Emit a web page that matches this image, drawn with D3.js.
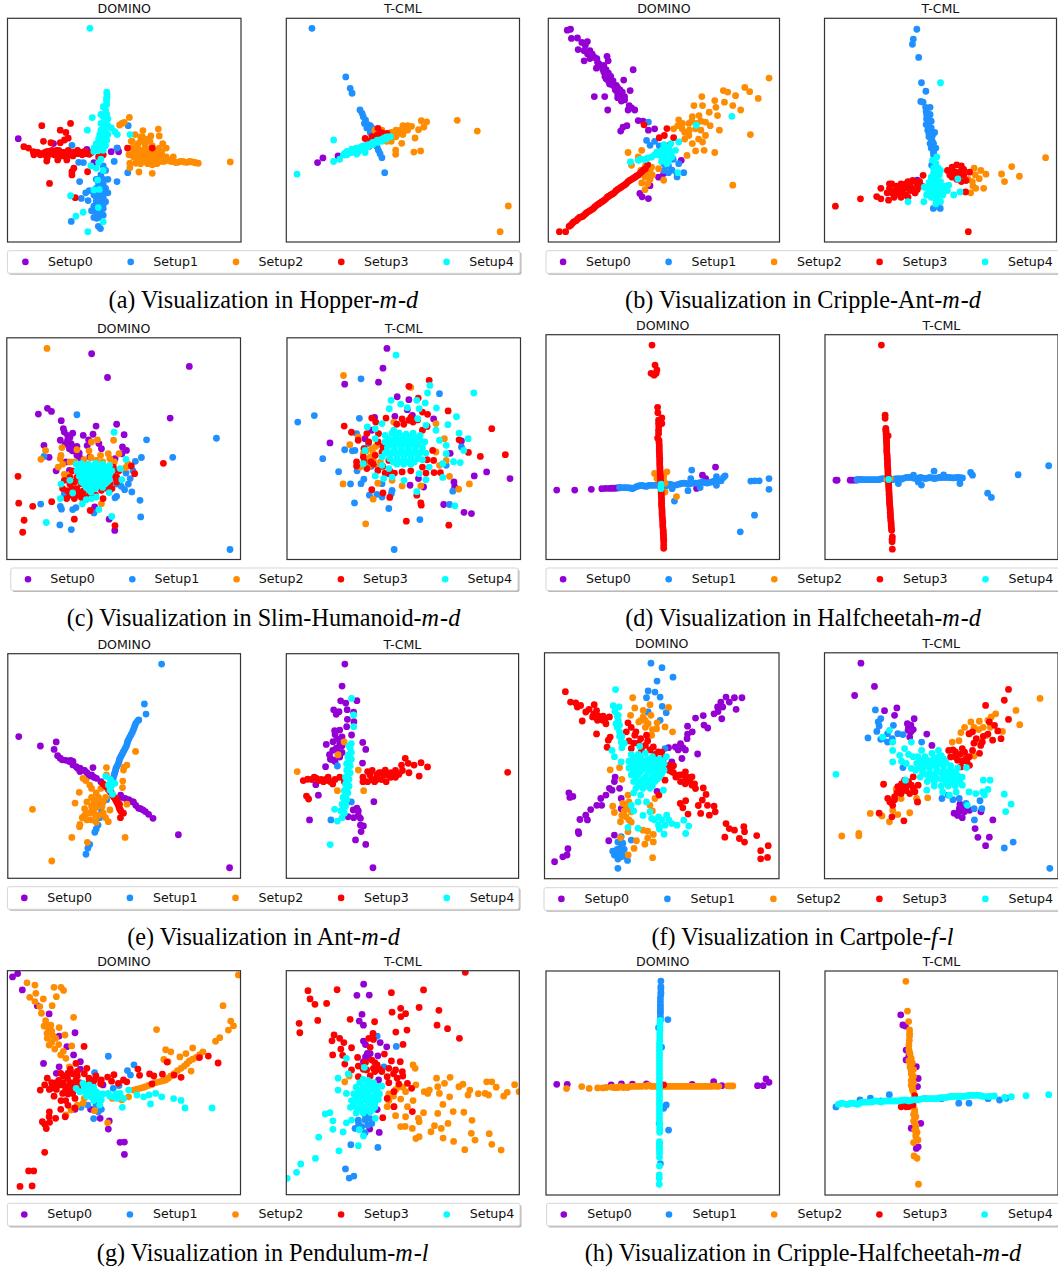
<!DOCTYPE html>
<html>
<head>
<meta charset="utf-8">
<style>
  body { margin: 0; background: #fff; }
  text { font-family: "DejaVu Sans", sans-serif; font-size: 12.6px; fill: #111; }
  text.caption { font-family: "Liberation Serif", serif; font-size: 24.2px; fill: #000; }
</style>
<script src="https://cdn.jsdelivr.net/npm/d3@7"></script>
</head>
<body>
<svg id="chart" width="1058" height="1270"></svg>
<script>
const setupNames = ['Setup0', 'Setup1', 'Setup2', 'Setup3', 'Setup4'];
const setupColors = ['#9400d3', '#1e90ff', '#ff8c00', '#ff0000', '#00ffff'];

// embedding values, both axes 0-100, y counted from the top
const hopD0 = [[4.6,53.8],[19.7,56],[34,58.6],[37,64.5],[44.4,59.6],[47.6,59.6],[47,58]];
const hopD1 = [[27.6,56.8],[30.5,64.4],[32.5,64.5],[45.7,64],[46.9,73],[30.9,73],[51.7,48],[46.9,58],[51.5,69],[27.3,90.8],[38.9,93],[39.8,94],[38.2,89.4],[33.5,78],[35,77],[31.6,80.5],[34.5,81.5],[38,72],[40,70],[42,68],[41,66],[43,72],[39,74],[41,74],[38,76],[40,77],[42,76],[43,78],[37,79],[39,80],[41,80],[38,82],[40,83],[42,82],[37,84],[39,85],[41,85],[36,86],[38,87],[40,87],[39,89],[37,89],[41,88],[39,72],[41,72],[40,75],[39,78],[41,78],[38,80],[40,81],[39,83],[41,83],[38,85],[40,85.5],[39,87]];
const hopD2 = [[95.4,64.2],[81.7,64.8],[80.5,64.6],[80,64.3],[79,64.2],[78,64],[77,64.4],[76,64.3],[75,64],[74,64],[73,64.4],[72,64.5],[71,64],[70,64],[69,63.5],[68,63.5],[67,64],[66,64],[65,63.5],[64,63],[63,64],[62,64],[61,63],[60,63],[59,64],[58,64],[57,63],[56,63],[55,62.5],[54,62],[66,61],[68,62],[71,62],[64,60],[62,61],[60,60],[57,60],[55,59],[53,58],[59,57],[56,56],[53,55],[60,54],[57,53],[49,47],[52.2,44.3],[48,47.7],[50,46.5],[58,50.2],[64.6,49.5],[65,52.6],[61.4,52.6],[57.8,53],[54.6,52],[53.4,55],[52,61],[52.4,64.8],[52.4,66.8],[55,64.8],[56.3,68.7],[62,69.3],[66.5,56],[68,58],[65,58],[62,57],[58,62],[60,65],[55,61],[63,59],[61,58.5],[58,59],[55,57.5],[66,59.5],[63,62],[60,62],[58,60.5],[56,58.5],[54,60],[57,65],[62,65.5],[64,65],[57,55],[59,55.5],[61,55]];
const hopD3 = [[7,57.4],[9,58],[11,59.6],[11.3,61],[12,60],[13,60],[14,60.5],[15,60.5],[16,60],[17,59.5],[18,60.8],[19,59],[20,60],[21,59],[22,60.5],[23,60],[24,60],[25,60],[26,60.8],[27,61],[28,60],[29,60],[30,60.5],[31,60],[32,60],[33,59.5],[34,60.5],[35,60.8],[36,60],[14,61],[16,61],[18,59.5],[20,61],[22,59],[24,61.5],[26,59],[28,61.5],[30,59],[32,61],[14.7,48],[27,47],[22.6,50],[25,51],[26,53.6],[24.4,54.4],[22.6,55.6],[15.4,55],[18.6,55.6],[16.8,63.8],[21.5,63.3],[25.4,63.3],[17,62.5],[22,62],[28.4,67],[27.6,68.5],[27.6,70],[34.3,68.6],[18,73.8],[29,80.2],[51.4,58],[62,58],[39,62],[41,61]];
const hopD4 = [[35.3,4.5],[42.5,33],[42.6,34],[42.6,35],[42.4,36],[42.4,37],[42.5,38.5],[41,39.5],[42,41],[42.5,43],[41,44],[43,45],[42,46],[40,47],[41.5,47.5],[43,48],[41,49],[40,50],[42,50.5],[39.5,52],[41,53],[43,52],[39,54],[41,55],[42.5,54.5],[38,56],[40,57],[42,57],[37,58],[39,59],[41,59],[40,43],[42,48],[41,51],[40,53],[39.5,56],[37.5,59],[36.3,44.4],[34.2,50],[52.5,52],[46,50.7],[47,52],[44.5,49],[37,59.5],[35.7,66],[38,67],[41,68],[38.6,72.3],[39.3,76.5],[37,76.7],[27,79.3],[32.4,86.7],[29.3,88.5],[38.9,84.6],[41,91],[34.4,95.4],[40,63],[39,64.5]];

const hopT0 = [[13.4,64.5],[15.7,62.4],[22.2,61.5],[25,61],[35.3,57.4],[30,59]];
const hopT1 = [[11,4.5],[25.5,26.2],[27.4,31.3],[28.2,33.5],[31.6,41],[32.5,42.5],[33,44],[34,45.5],[33.5,47],[35,47.5],[36,48],[36.7,49],[34.5,49],[36,51],[37,53],[38,55],[38.9,57.4],[39.5,59],[40.2,60.5],[41,62.3],[42.2,69]];
const hopT2 = [[73.3,45.6],[81.9,50.4],[95.2,83.9],[91.7,95.4],[57.9,45.8],[60.2,46.3],[59,48.6],[56.7,49.8],[53.7,48.3],[55.2,53.5],[57.6,59.3],[54.7,59.8],[46.9,58.9],[46.9,60.8],[49.5,55.9],[50,48],[51.5,48.5],[49,50],[47,50],[45,51],[52,50],[50,52],[47,53],[45,55],[43,55],[38,50],[48,51.5],[46,52.5],[44,53.5],[50,50],[52,48],[41,50]];
const hopT3 = [[33.8,53.7],[36.7,52.9],[38.9,52.2],[41,51.1],[43.2,51.4],[39.3,49.2],[37,54],[35,55],[42,52.5],[40,52]];
const hopT4 = [[4.6,69.7],[20.3,54.4],[20.3,64],[22.9,63],[25,60.4],[26,59.5],[27,60],[28,58.5],[29,59],[30.2,60.7],[30,58],[31,58],[32,57.5],[33,58],[33.8,60],[34,57],[35,56.5],[36,56.5],[37,55.5],[38,55.5],[39,54.5],[40,54.5],[41,54],[42,53.5],[43,53],[44,53],[44.7,52.9],[24.5,61],[26,61],[28,60],[31,59.5],[33,57],[35,57.5],[37,56.5],[39,55.5],[41,55],[43,54]];

const antD0 = [[8.2,5.3],[9.6,4.9],[10,9],[12.6,8.8],[14.5,10.8],[16.9,10.4],[12.9,14],[15.5,14.5],[18,14.5],[15.5,19],[20,17.5],[21.3,19.7],[25.4,17],[25.9,19],[20.8,22.3],[23.5,22.7],[22,20.5],[24,24],[25.7,25.7],[25,27],[26,28],[36.7,23],[32.6,27.6],[26.5,29.4],[28,30],[29.4,30],[35.4,32.3],[30,33.8],[29,32],[31,32],[33,35],[32,33],[19.9,35],[24.4,35],[31.6,37],[30,35.5],[25.7,41],[34.5,41],[37.4,41],[36,40],[38.9,45.7],[41,46],[34,48],[32.3,48.7],[31.3,50.4],[43.3,50],[46,49.4],[57.5,63.5],[49.9,69.4],[47.7,71],[55.7,69.4],[39.6,78.3],[40.6,79.8],[43.3,80.6],[44,74.8],[16,12],[17,16],[19,16],[18,18],[21,18],[22,21],[24,21],[25,23],[26,24.5],[27,26],[28,28],[24.5,26],[27,29],[30,31],[31,34],[32,35],[33,36.5],[35,39]];
const antD1 = [[43.3,46.4],[42.5,54.6],[44,56.8],[55.7,70.9],[58.6,69],[56.4,65],[53.5,67.9],[52,66],[50,68],[54,63],[46,55],[48,57],[50,65],[52,69]];
const antD2 = [[95.5,26.7],[85,30.9],[87.1,32.8],[90.8,35.8],[75.7,32.3],[77.6,33],[81,34.6],[66.4,35],[72,36.8],[76.2,37.5],[79.8,39],[83.2,41],[63,39],[66.7,39],[72.5,39.8],[69.6,42],[73.2,43.5],[62.3,44],[56.4,45.4],[65.2,43.5],[68,46.4],[60.8,47],[74,50],[87.4,52],[54.2,49.4],[57.9,49.4],[63.7,49.4],[68,52.4],[60.8,52.4],[66.7,55.3],[62.3,56],[67.4,59],[63.7,59.3],[72,60],[60,61.3],[79.8,74.6],[34.5,60],[40.4,59],[38.9,62],[43.3,69.4],[41.8,71],[44.7,66.5],[40.4,73.6],[41.8,76.6],[49.9,72.4],[47.7,67.2],[36,65.7],[42,66],[40,68],[44,72],[43,74],[64,47],[70,48],[59,51],[66,46],[62,46],[58,47],[56,48],[61,50],[66,50],[65,54],[59,54],[44,68],[42,69],[45,70]];
const antD3 = [[4.8,95.4],[7.5,95.4],[9,93],[9.7,92.5],[10.4,91.7],[11,91],[12,90.5],[12.8,89.7],[13.5,89],[14.2,88.8],[15,88.5],[15.8,87.7],[16.5,87],[17.2,86.5],[18,86],[18.8,85.5],[19.5,85],[20.2,84.2],[21,83.5],[21.8,83],[22.5,82.5],[23.2,82],[24,81.5],[24.8,80.8],[25.5,80],[26.2,79.5],[27,79],[27.8,78.5],[28.5,78],[29.2,77.2],[30,76.5],[30.8,76],[31.5,75.5],[32.2,75],[33,74.5],[33.8,73.8],[34.5,73],[35.2,72.5],[36,72],[36.8,71.5],[37.5,71],[38.2,70.5],[39,70],[39.8,69.2],[40.5,68.5],[41.2,67.8],[42,67.2],[41.4,47.6],[51.3,49.3],[48,53.4],[50.2,52.4],[54.2,53.4],[52.3,56.8],[43,65.5]];
const antD4 = [[35.5,64.2],[38.9,63.5],[41.8,63.2],[44.7,62],[47,59.8],[49,59],[52,57.6],[55,59],[49,62],[51.3,65],[53.5,62],[56.4,55.3],[64,47.8],[79.4,43.8],[56,69],[51,60],[47.5,61],[50,56.5],[53,60],[40,63],[43,62.5],[46,61],[48,60.5],[50,58],[52,59],[51,62.5],[52,64],[49,64],[53,56]];

const antT0 = [[40,72.4],[39,78]];
const antT1 = [[39.8,4.9],[38.3,9.3],[37.9,11.6],[40.6,17.5],[41.8,28.8],[43.7,32.6],[41.5,37.2],[42.5,37.5],[43.6,39.8],[45.5,39.8],[43.8,41.5],[44,43],[45.5,43],[44,45],[44.7,47],[46,46],[43.8,47.5],[46,49],[44.5,50],[46.2,51.6],[47.5,51],[45,53],[46,54],[45.5,56],[47,56],[46,58],[46.9,59],[48,58],[47,61],[46.2,65.7],[46.9,85],[49.9,85],[48.5,84],[45,48.5],[45,51.5],[46.5,52.5],[46.5,55],[47,60],[45,44]];
const antT2 = [[95.3,62.3],[80.7,66.3],[84,70.6],[76.3,69.6],[77.6,73],[69.6,69.7],[68.6,76],[64.5,67],[67.4,68],[66.7,71.7],[63.7,73],[65.2,76],[63,78],[65,70],[64,75],[62,72]];
const antT3 = [[4.7,84],[15.5,80.7],[22.5,79.7],[24.3,80.7],[27.6,81.3],[24.3,76],[28,76],[27,78],[29,74],[30,77],[31,75],[32,78],[33,74],[34,76],[35,79],[36,76],[33,80],[30,80],[37,74],[38,76],[39,78],[36,73],[38,72.5],[40,74],[42,75],[42.5,70.2],[62.5,68.8],[60.8,77.6],[62,95.4],[53,68],[55,66.5],[57,65.5],[59,66],[56,68.5],[58,69],[60,70],[55,71],[57,72],[59,73],[54,70],[61,72.5],[29,78],[31,78.5],[32,75.5],[34,78.5],[35,74],[37,77],[40,76.5],[41,73],[36,80],[28,74],[55,68],[57,69],[59,68],[58,71],[56,70.5],[60,67.5]];
const antT4 = [[36,82],[42.8,82],[50,28.8],[48.4,62],[46.5,63.5],[57.5,71.8],[55.7,79],[58.4,77.6],[53.5,74.6],[48,65],[49,67],[47,69],[49.5,70],[46,71],[48,72],[50,73],[45,73.5],[47,75],[49,75],[51,76],[43,75.5],[45,77],[47,78],[49,78],[51,79],[46,80],[48,81],[50,82],[44,79],[53,77],[47,67],[48,69],[50,68],[46,73],[48,74],[50,75],[44,76],[46,76],[48,76],[50,77],[47,80],[49,80],[48,83],[45,79],[52,75]];

const humD0 = [[36.3,7.2],[43.1,17.9],[78.1,12.9],[69.9,36.2],[13.5,34.4],[17.4,31.8],[19.1,33.2],[23.3,37.4],[24.2,41],[47,39],[38.2,39.8],[50.2,43.7],[15.9,48.5],[18.1,53.9],[21.1,60],[24.6,42.5],[28.2,43],[32.7,44],[36.9,43.5],[35,46],[22.9,46.2],[26,46.2],[27.5,47.7],[34.4,48.6],[39.4,47.7],[40.5,50],[49.5,49.2],[51.2,50.8],[26.8,50],[29.7,51.5],[31.1,53.8],[35.5,53.8],[46.3,54.5],[49.2,52.3],[25.3,56],[43.8,81.8],[46.2,86.9],[37.6,76.3],[26.8,59.8],[28,49],[30,49],[31,52],[26,44],[27,45],[25,48],[28,51],[30,53],[32,55]];
const humD1 = [[30,34.7],[59.8,46],[89.7,45.3],[71,53.9],[57.6,54],[55,55.7],[15.9,53.5],[95.5,95.5],[57,73.3],[57.3,80.8],[53.5,69.5],[50.4,68.5],[47,66],[52.8,63.5],[46.3,72.2],[14.5,75],[22.9,76],[23.4,77.3],[28.2,77.5],[29.6,76.6],[22.7,84.4],[27.6,86.5],[37.3,79],[24.6,70.3],[47,71.5],[54,60],[51,61],[49,67],[52,66]];
const humD2 = [[17.2,4.8],[45.7,46.2],[38.8,46],[36.2,47],[23.6,49.5],[16.6,50.8],[30,50.5],[35.2,51],[23.2,53],[22.9,54.5],[14.6,54.8],[40.1,53],[43.4,52.3],[48,52.3],[44.1,54.5],[38.3,55.3],[29,56],[23.9,57],[22,58.3],[51.8,56.8],[50.9,58.6],[24.6,61.6],[26.8,61.7],[28.2,66.8],[40.5,74.8],[44,69],[41,56],[33,55],[46,56],[36,54],[27,56]];
const humD3 = [[4.8,62.5],[5.1,74.6],[11.1,76],[19.2,73.9],[7.4,82.3],[6.8,87.7],[28.9,81.8],[35.7,77.9],[46.3,84.7],[67,56.6],[53.3,57.8],[54.7,61.3],[24.6,64.3],[23.9,68],[25.6,72.5],[28.9,72.5],[31,71],[31.8,65.8],[31.8,69.5],[35.5,70.3],[40.5,68.8],[44.1,65.8],[47,62.8],[45.6,58.3],[41.2,72.5],[27,63],[28,60],[30,68],[33,71.5],[38,71],[43,68],[46,60],[47,65],[26,69],[29,70],[27,66],[28,68],[30,63],[29,65],[33,69],[36,72],[45,68],[48,60],[46,63],[27,71],[32,72]];
const humD4 = [[29.7,57],[32,56.8],[35,57],[38,56.5],[41,57],[44,57.5],[30,60],[33,59.5],[36,59.5],[39,59],[42,59.5],[45,60],[31,62.5],[34,62],[37,62],[40,62],[43,62],[32,65],[35,65],[38,64.5],[41,64.5],[44,64],[34,67.5],[37,67],[40,66.5],[42,66],[36,69.5],[31,58.5],[34,58],[37,58],[40,58],[43,58.5],[32,61],[35,60.5],[38,60.5],[41,60.5],[44,61.5],[33,63.5],[36,63.5],[39,63],[42,63],[33,66],[36,66],[39,65.5],[43,65],[35,68.5],[38,68],[41,67.5],[45.9,42.6],[51,54.8],[48.5,59],[49.2,64],[23.2,66],[27,64.3],[28.2,70],[22.9,72.5],[16.9,83.3],[32.3,74.9],[39.4,77.5],[44.9,80.6],[36.2,72.5],[38.3,71.8],[43.8,69.8],[34,73]];

const humT0 = [[42.8,4.8],[41.1,13.7],[39.2,20],[24.7,20.9],[47.2,26.6],[52.2,27.9],[18.4,47.4],[95.5,63.5],[85.5,60.5],[80.2,62.3],[71.5,65],[71.8,67.3],[69.9,52.1],[67.1,75.2],[75.8,78.7],[79,79.3],[62.8,36.6],[46.2,35.4],[37.5,35.9],[51.5,32.4],[53.7,35],[36.3,41.7],[74.7,46.5],[52.7,66.5],[58.5,67.3],[56.3,63.5],[33.4,45.5],[43.6,61.3]];
const humT1 = [[4.6,38],[11.7,35.1],[15.3,54.5],[22.1,60.4],[24.7,50.5],[31,36.3],[31.7,18.5],[65.3,25.2],[27.2,65.9],[28.9,74.5],[31.7,65.8],[32.9,63.8],[35.3,71],[38.5,70.6],[40.7,71.8],[45,68.8],[44.7,70.3],[43.6,77],[45.9,95.5],[56.9,82],[69.6,75.2],[71,69.2],[74.7,49.2],[68.2,57.5],[29.8,43.2],[29.1,50.8],[30,60],[34.9,47.7],[40.7,65.8],[28,51],[33,50],[36,58]];
const humT2 = [[24.2,17],[53,22.4],[24,65.9],[33.7,83.9],[36.9,72.8],[38.9,65.6],[49.3,66.8],[57.3,66.8],[73.5,68.3],[78.1,65.9],[69.6,62.5],[26.9,48.2],[30.5,44.7],[36.3,50],[32.7,52.3],[35.6,53.8],[31.3,58.3],[39.2,58.3],[37,55.3],[63.8,38.7],[67.4,45.5],[63.8,51.5],[65.3,57.5],[45.7,38],[45,64.3],[68.2,55.3],[34,56],[38,49],[34,51],[37,52],[35,58],[40,56]];
const humT3 = [[60.9,19.2],[52.2,21.9],[56.2,27.2],[69,33],[24.5,39.8],[27.6,42.6],[87.7,41],[93.5,52.7],[82.8,53.5],[77.7,51.7],[73.7,46],[36.3,36.2],[42.4,36.2],[49.3,36.6],[58,33.5],[60.2,34.5],[52.2,37.2],[30.5,46.2],[34.2,43.2],[39.2,43.2],[38,38],[32.7,53.8],[29.8,56],[29.8,57.8],[34.2,59],[38.9,59.8],[43.6,55.3],[37.8,53],[40.7,51.5],[36.3,68.5],[41.1,70],[44,72],[55.6,71],[57.3,74.5],[57.5,75.5],[51.1,82.7],[69.3,84.5],[59.5,61],[63,60.8],[65.7,60.8],[58,58.3],[62.8,55.3],[49.3,60.5],[58,41.7],[62.4,50.8],[35,47],[33,50],[36,56],[41,58],[44,60],[54,38],[47,39],[50,39],[53,36],[56,37],[60,40],[39,47],[41,49],[37,57],[33,56],[42,61],[46,61],[53,60],[60,55]];
const humT4 = [[46.7,7.8],[61.2,21.5],[60.2,24.9],[80,24.9],[44.6,28.2],[48.7,29.9],[55.6,28.2],[59.2,29.4],[43.8,32],[51.5,31.5],[56.6,32],[64,31.7],[72.6,35.6],[68.9,39.2],[73.7,43],[77.6,45.5],[75.7,50.8],[71.3,55.9],[74.2,56.3],[66.7,63],[71.9,75.8],[55.6,69.4],[34.4,40.2],[37.8,41],[40.7,38.7],[45.7,41.7],[56,36.5],[59.5,39.5],[63.8,41.7],[65.3,46.2],[68.2,48.5],[68.2,52.3],[33.4,50.8],[32.7,56.8],[40.7,53.8],[37.8,45.5],[40.7,57.5],[43.6,59],[37.8,62.3],[41.4,63.5],[50.1,64.3],[56.6,61.3],[60.9,58.3],[59.5,64],[45,62.8],[66.7,56.8],[42,44],[45,43],[48,43],[51,43.5],[54,43],[57,44],[42,47],[45,46.5],[48,46],[51,46.5],[54,46],[57,46.5],[59,47],[43,49.5],[46,49],[49,49],[52,49],[55,49],[58,49.5],[42,52],[45,52],[48,52],[51,52],[54,52],[57,52],[59.5,52],[44,54.5],[47,54.5],[50,54.5],[53,54.5],[56,54.5],[47,57],[50,57],[53,57],[43.5,45.5],[46.5,45],[49.5,44.5],[52.5,45],[55.5,45],[44,48],[47,47.5],[50,47.5],[53,47.5],[56,48],[43,51],[46,50.5],[49,50.5],[52,50.5],[55,50.5],[58,51],[44,53],[47,53],[50,53],[53,53],[56,53],[45.5,56],[48.5,56],[51.5,56],[54.5,56],[58,55]];

const cheD0 = [[4.6,69.1],[12.3,69.1],[19.4,68.8],[23.9,68.5],[25.5,68.4],[27.2,68.4],[28.3,68.3],[29.4,68.3],[30.5,68.2],[31.5,68.1],[72.6,58.9],[67,62.5],[68.4,64],[64.5,68.4]];
const cheD1 = [[31.5,68],[32,68],[33,68],[34,68],[35,68],[36,68.2],[37,68.5],[38,68],[39,67.5],[40,67.2],[41,67],[42,67.3],[43,67.5],[44,67],[45,67],[46,67],[47,67],[48,67],[49,67],[50,67.2],[51,67.5],[52,67],[53,66.5],[54,66.8],[55,67],[56,66.8],[57,66.5],[58,66.2],[59,66],[60,66.2],[61,66.5],[62,66.2],[63,66],[64,66],[65,66],[66,65.8],[67,65.5],[68,65.8],[69,66],[70,65.7],[71,65.5],[72,65.2],[73,65],[74,65],[75,65],[76,63.5],[62.4,60.2],[76.7,62.8],[73,63.2],[87.7,65.1],[89.4,65],[91.3,65],[95.5,64],[95.5,68.8],[89.3,80.3],[83.2,87.7],[55,74],[60.8,69.4],[54,68.5],[62,64],[66,68],[73,67]];
const cheD2 = [[46.5,61.7],[51.8,61],[50.4,63],[47.5,64],[51,66],[51,70],[55.9,72],[47.5,62.5],[48,63],[50.5,65]];
const cheD3 = [[45.4,4.6],[46.7,13.5],[47.5,15.7],[47.2,17.2],[45,17.2],[46.3,18],[47.8,32.3],[47.9,34.7],[49.6,37],[49.6,39.5],[48.2,38],[48.2,39.5],[48.3,41],[48.2,42.5],[48.2,44],[47.8,46],[48.4,47],[48.4,48],[48.5,49],[48.5,50],[48.5,51],[48.5,52],[48.6,53],[48.6,54],[48.7,55],[48.7,56],[48.7,57],[48.7,58],[48.8,59],[48.8,60],[48.9,61],[48.9,62],[49,63],[49,64],[49.1,65],[49.2,66],[49.2,67],[49.2,68],[49.3,69],[49.3,70],[49.4,71],[49.4,72],[49.5,73],[49.5,74],[49.5,75],[49.5,76],[49.6,77],[49.7,78],[49.7,79],[49.7,80],[49.8,81],[49.9,82],[50,83],[50,84],[50,85],[50.1,86],[50.2,87],[50.2,88],[50.3,89],[50.3,90],[50.4,91],[50.4,92],[50.4,93.5],[50.4,95]];
const cheD4 = [[49.2,67.4],[49.2,68.5],[49.3,66.5]];

const cheT0 = [[4.7,64.7],[5.2,64.7],[10.8,64.7],[11.8,64.7],[13,64.7],[14,64.6],[15,64.5]];
const cheT1 = [[13.7,64.5],[14.5,64.5],[15.5,64.5],[16,64.5],[17,64.5],[18,64.5],[19,64.5],[20,64.5],[21,64.5],[22,64.5],[23,64.5],[24,64.2],[25,64],[26,64.2],[27,64.5],[28,64.5],[29,64.5],[30,64.2],[31,64],[32,64],[33,64.2],[34,63.8],[35,63.5],[36,63.5],[37,63.5],[38,63.8],[39,64],[40,63.8],[41,63.5],[42,63.8],[43,64],[44,63.8],[45,63.5],[46,63.8],[47,64],[48,63.8],[49,63.5],[50,63.5],[51,63.5],[52,63.5],[53,63.5],[54,63.6],[55,63.7],[56,63.6],[57,63.5],[58,63.6],[59,63.7],[46.8,60.7],[50.9,62.4],[62.5,61.3],[63.3,62.5],[57.9,66.2],[41.4,66.9],[40,65.5],[31.5,66.2],[38,62.5],[82.9,62.3],[96,58.3],[69.8,70.5],[71.4,72.4]];
const cheT2 = [[26.5,64.5],[28,64]];
const cheT3 = [[24.2,4.6],[25.8,35.8],[25.8,37.2],[26.1,41.7],[27.1,45],[26.1,42.4],[26.2,43],[26.2,44],[26.3,45],[26.3,46],[26.4,47],[26.4,48],[26.5,49],[26.5,50],[26.5,51],[26.5,52],[26.6,53],[26.7,54],[26.7,55],[26.8,56],[26.8,57],[26.8,58],[26.9,59],[27,60],[27,61],[27,62],[27.1,63],[27.2,64],[27.2,65],[27.3,66],[27.3,67],[27.4,68],[27.4,69],[27.5,70],[27.5,71],[27.6,72],[27.6,73],[27.7,74],[27.7,75],[27.8,76],[27.9,77],[28,78],[28,79],[28.1,80],[28.1,81],[28.2,82],[28.3,83],[28.4,84],[28.4,85],[28.5,86],[28.6,87],[28.9,89.9],[28.8,91],[28.8,92.1],[28.9,95.4]];
const cheT4 = [[27.3,64.4]];

const sntD0 = [[4.7,36.9],[14,41.1],[20.8,39.3],[19.9,42.6],[21.4,45.4],[22.5,46.5],[23.5,47.3],[25,47.5],[26.5,48],[28,49.5],[29.4,50.3],[31,51],[32.3,51.8],[36.6,50.7],[34,53],[36,54],[38.1,55.5],[40,57],[50.4,64.4],[52,65],[53.3,65.9],[55,67.5],[56.2,68.8],[59.1,70.3],[60.5,71.5],[62.4,73.3],[73.3,80.6],[95.3,95.3],[48.5,63],[27,47.5],[28,48],[30,51],[31,52.5],[33,52],[35,54.5],[37,55],[49,64],[51.5,66],[54,66],[57,69],[58,69.5]];
const sntD1 = [[66.1,4.6],[58.7,22.4],[59.4,26.9],[56.3,29.5],[55.7,30],[55,31],[54.6,32],[54.3,33],[53.9,34],[53.5,35],[53,36],[52.5,37],[52,38],[51.5,39],[51.3,40],[51,41],[50.5,42],[50,43],[49.5,44],[49,45],[48.5,46],[48,47],[47.8,48],[47.5,49],[47,50],[46.5,51],[46.3,52],[46,53],[45.7,54],[45.3,55.5],[44,60],[42.5,65],[40.3,70.3],[39.5,73],[38.8,76.3],[38,78],[37.4,79.5],[35.2,84.9],[34.4,86.6],[33.6,89.3]];
const sntD2 = [[54.9,43.5],[51.2,49.6],[50,50.5],[49.7,51.8],[42.4,50.7],[42.4,54],[10.6,69.3],[18.9,92.3],[27.5,81.8],[34.2,84],[50.4,81.8],[30.7,61.7],[28.9,66.5],[30.8,77],[32.3,55.5],[35.2,58.5],[33.5,56.5],[36,60],[49.4,56.7],[49.3,59.6],[51.2,67],[43.9,69.6],[43.2,74.8],[38,62],[40,60],[36,64],[38,65],[40,66],[42,64],[34,66],[36,68],[38,68.5],[40.5,68],[33,69],[35,71],[37,71],[39,72],[41,71],[32,73],[34,74],[36,74],[38,75],[42,73],[31,76],[39,64],[37,66],[39,67],[41,66],[34,71],[36,70],[38,72],[33,72]];
const sntD3 = [[41,58],[41.8,58.8],[42.5,59.5],[43.2,60.5],[43.9,61.4],[44.5,62],[45,63],[45.5,63.8],[46,64.4],[46.4,65.2],[46.8,66],[47.2,66.7],[47.5,67.4],[47.8,68.2],[48,69],[48.4,69.7],[48.7,70.3],[49.7,71],[48.4,73],[47,65],[48,67]];
const sntD4 = [[42.1,54.6],[44.6,57],[43.2,58.5],[43.9,60.7],[46,57.7],[45,62.6],[44,56],[44.5,59]];

const sntT0 = [[25.2,4.6],[24,14.4],[30.4,20.9],[23.4,21],[25.6,22],[26.2,24.9],[20.4,25],[22.7,25.8],[21.5,27],[29,26],[29.1,30.3],[26.3,29.2],[20.8,34.3],[23,34],[26,32.5],[28.1,36.2],[32.9,39.5],[34.2,42.6],[17.2,40.4],[20.1,39.2],[21.5,42],[18.6,45],[20.1,47.3],[32.8,48.7],[22.3,45],[24,37],[22,38],[24,41],[16.9,50.3],[12.7,58.3],[13.8,63],[10,74],[37.7,65.9],[29.8,82.9],[34.2,84.9],[37.3,95.3],[28.8,69.6],[29,73],[31.9,73.3],[31.9,76.3],[33.2,76.7],[32.2,79.2],[26.6,72.6],[30.4,68.8],[21,36],[23,40],[20,43],[22,43],[19,47],[21,48],[24,44],[23,46],[31,70],[31,72]];
const sntT1 = [[19.2,74],[22,50],[28,66]];
const sntT2 = [[4.7,52.5],[24.9,39.3],[33.3,61],[22.3,45],[31,51.8],[22,61]];
const sntT3 = [[95.3,52.8],[51.2,46.6],[49.6,49.6],[52.5,48.8],[55,49.6],[58,48.5],[60.8,50.4],[57.2,54.5],[52.8,53],[48.5,53.7],[46.3,53.3],[42.6,51.8],[39,54],[36,54],[33,55],[37,52],[41,56],[44,54],[7.3,56.5],[9.2,55.9],[11,56],[13,55.5],[15,56],[17,56],[19,57],[21,56],[8.7,63.4],[9.6,64.7],[16,57],[18,55],[35,57],[38,57],[43,57],[23,55],[25,57],[20,58],[18,56.5],[14,56.5],[12,55],[33,57],[35,52.5],[40,53],[42,54],[45,53],[47,52],[50,52],[39,56],[37,56],[41,53],[45,55],[47,55]];
const sntT4 = [[28.1,19.9],[29,27.3],[29,32.5],[18.9,85],[20.8,69.3],[22,74.5],[28,40],[27.5,42],[28,44],[26.5,46],[28,47],[26,49],[27.5,50],[26,52],[27.5,53],[25.5,55],[27,56],[25.5,58],[27,59],[25,61],[26.5,62],[24.5,64],[26,65],[24,67],[25.5,68],[23.5,70],[25,71],[24,73],[27,41],[27,45],[27,48],[26.5,51],[26.5,54],[26,57],[26,60],[25.5,63],[25,66],[24.5,69]];

const carD0 = [[4.3,92.5],[7.8,90.3],[9.6,89.5],[10,86.7],[14.4,79.2],[14.6,80],[27.4,83.2],[29.8,80.7],[10.4,62],[10.8,64],[12.1,63.6],[15.1,73.8],[17.6,71.9],[18.3,74],[19.7,69.4],[22.3,67.5],[24,64.5],[26.2,63],[27.7,60],[29.8,57],[32,60],[32.7,64.5],[32.7,69],[33.6,71.9],[30.1,55],[24.4,67.5],[28.8,60.8],[48,61.3],[84.2,19.9],[81,19.9],[77.4,19.6],[78.8,21.8],[75.2,21.8],[73.8,24],[81.7,25],[72.3,27],[75.6,29.2],[64.4,28.9],[67.7,27.8],[68,32],[69.6,33.3],[61,32.5],[63,35],[60.8,38],[58,40.2],[55.8,41.7],[52.9,42],[60.1,43],[58.6,46.8],[65.3,44.8],[54.3,48.3],[74,26],[76,24],[61,36],[59,42],[57,43]];
const carD1 = [[45.4,4.6],[50.1,6.6],[54.8,10.8],[48,12.5],[44.2,16.9],[47.1,17.4],[49.3,19.6],[43.5,19.9],[50.2,23.7],[51.9,26.5],[44.2,26.2],[49.3,29.9],[37,82.9],[32.7,81.4],[31.3,83.7],[29.1,87.8],[29.8,89.5],[32,86.6],[33.4,84.4],[32.7,90.3],[31.3,91.3],[35.4,91.9],[31.3,95.4],[47.1,50.5],[51.4,42.4],[31,87],[33,88],[31,89],[33,84],[34,87],[34,90]];
const carD2 = [[37.6,19.9],[52.9,24.2],[45,23],[38.5,24.4],[42.1,25.5],[36.7,27.7],[42.1,28.4],[45.4,27.7],[40.2,30.6],[44.2,31.4],[47.8,33.6],[51.4,32.8],[54.6,35],[45.7,36.5],[28,51.8],[32,50.8],[33,56],[43.5,47.6],[35.6,63],[36.3,67.5],[33.4,66.7],[29.1,67.9],[29.8,70.7],[47.1,64.5],[45,67.5],[32.4,74.8],[34.8,72.6],[37,70.4],[32.4,81.9],[35.6,79.2],[39.2,83.2],[42,78.5],[44,79],[46.4,80.4],[46.4,83.7],[42.8,84.7],[38.2,86.6],[46.1,90.7],[35.7,89.5],[46,70],[34,70],[37,75],[41,30],[43,30],[46,34],[48,31],[43,33],[36,66],[35,69],[33,72],[36,74],[44,82]];
const carD3 = [[8.9,17.2],[11.1,21.8],[13.3,22.2],[15.4,23.3],[17.6,26.2],[21.2,23],[22.2,25.6],[16.1,30.2],[20.5,28.4],[22.6,29.9],[24.8,29.9],[27.7,28.4],[26.2,31.4],[22.2,35.9],[28,37.3],[27.2,38.7],[26.7,41.8],[35.6,31],[34.9,35],[38.5,36.5],[43.5,36.5],[37,42.4],[41.4,43.2],[46.4,41.7],[48.6,43.9],[50.7,46.8],[52.9,49.8],[54.3,52.7],[57.2,54.2],[60.1,52.7],[60.1,56.4],[62.9,54.9],[62.9,58.6],[64.4,60.1],[51.4,56.4],[67.7,59.8],[68.9,62.7],[67.3,65.2],[65.6,67.6],[69.5,67.5],[72.3,67.9],[72.8,70.4],[70.3,71.9],[66.6,71.1],[61.2,71.4],[60.2,65.5],[57.9,66.7],[59,68.6],[48.8,63],[77.4,75.6],[78.8,77.8],[81,78.5],[76.9,81.6],[85,77],[85.3,79.2],[83.1,82.2],[85.3,83.8],[90.5,80.9],[95.4,85.4],[92.2,87.6],[95.1,90.6],[92.2,91.2],[36,39],[40,40],[44,39],[47,45],[56,55],[58,57],[55,50],[59,54],[19,25],[21,27],[23,28],[25,28],[26,29],[37,33],[39,35],[41,38],[43,41],[38,40],[45,43],[50,44],[53,52],[55,53],[61,55],[58,54],[62,57],[60,58],[64,58],[14,24]];
const carD4 = [[30.3,16.3],[29.3,23.4],[31.8,24],[31.5,27.7],[30.5,31.4],[32,35],[32.7,39.5],[31,28],[30,26],[31,33],[33,37],[33,42],[31.5,30],[32,32],[32,37],[34,40],[28.8,43.2],[29.8,46],[32.7,48.3],[40.6,41.4],[37,45],[40,45],[43,44.5],[46,46],[49,47],[52,46],[36,48],[39,48],[42,48],[45,49],[48,49],[51,49],[36,51],[39,51],[42,51],[45,52],[48,52],[51,52],[37,54],[40,54],[43,55],[46,55],[49,55],[38,57],[41,57],[44,58],[47,57],[39,60],[42,60],[45,60],[38,62],[41,63],[38,46.5],[41,46.5],[44,47],[47,47.5],[50,48],[37.5,49.5],[40.5,49.5],[43.5,50],[46.5,50.5],[49.5,50.5],[38,52.5],[41,52.5],[44,53],[47,53.5],[50,53.5],[39,55.5],[42,56],[45,56.5],[48,56],[40,58.5],[43,59],[46,59],[37,67.5],[39.9,66],[43.5,66],[45,70.4],[45.7,73.3],[48.6,72.6],[52.1,71.9],[48.6,76.3],[51.4,76.3],[51,80.3],[54.3,75.6],[56.5,76.3],[59.4,74.1],[61.5,76.7],[60.2,80],[39.9,77.7],[35.6,77.3],[50.7,60.8],[42,72],[38,70],[47,74],[50,74],[53,74],[49,78]];

const carT0 = [[15.6,4.6],[21.4,14.9],[12.9,18.9],[31,24.4],[25.7,25.6],[30,27.7],[38.4,29.2],[35.5,31.4],[38,34],[35.8,34.3],[36.5,37.3],[37,32],[43.8,36],[46,41],[55.5,71],[57.7,69],[59.9,70.4],[62.1,69.7],[59,73],[72.1,74],[64.5,77.8],[65.7,81.7],[70.6,81.6],[69,85.4],[67,70.4],[57,72],[58,67],[36,33],[37,35],[58,70],[60,68]];
const carT1 = [[21.8,25.3],[24.1,29.2],[23,30.6],[29.5,32.1],[23.4,32.4],[22.4,34.8],[18.6,37.7],[24.1,38.3],[27,35.8],[31.4,35.8],[33.6,36.2],[27,39.5],[41.6,39.5],[33.6,50.8],[50.3,64.5],[57.7,64.5],[60.6,66.7],[64.1,69],[67.4,69],[66.6,65.5],[64.2,74],[77,86.4],[80.8,83.8],[96.5,95.4],[25,38],[29,38],[55,65],[53,63]];
const carT2 = [[92.3,20.2],[82,25.5],[83.6,31.8],[73.3,27],[71.4,28.4],[70,29.9],[62.7,30.6],[66.3,30.3],[58.4,35.3],[64,33],[76.2,34.8],[69.6,36.5],[66.7,39.5],[64.1,45.7],[54.7,39.5],[57.6,38.9],[32.8,64.5],[30.7,60.4],[39.4,64.5],[44.2,64.2],[29.2,69.7],[19.6,71.1],[24.6,72.2],[27.8,74.8],[31.4,71.6],[36.5,70.8],[7.4,81.1],[14.7,80],[14.7,81],[40,66],[68,33],[60,33],[62,36],[66,34],[71,33]];
const carT3 = [[78.8,16.2],[77,21],[69,23.3],[78.8,29.5],[70.6,30.6],[72.8,32.1],[74.2,34.6],[63.4,35],[61.9,35.8],[75.6,38],[72,38.7],[67.6,39.5],[66.9,41],[66.4,44.5],[63.4,43.2],[53.2,43.2],[56.1,43.9],[59,42.4],[54,46.1],[57,47.6],[60.6,46.8],[62.1,49.8],[58.4,50.5],[25.3,58.2],[34.3,56.4],[38,54.9],[31.4,59.3],[34.3,60],[37.2,58.6],[32.8,62.3],[36.5,62.3],[40.1,58.6],[38.7,61.5],[27.1,64.5],[30,63.8],[29.2,67.5],[23.4,71],[28.9,72.6],[34,74.4],[39.8,66],[33,58],[36,57],[31,62],[55,43],[58,45],[60,44],[56,46],[59,48],[61,48],[62,46],[35,59],[33,61],[35,61],[38,60],[30,65],[28,66],[65,38],[68,37],[70,36],[64,40]];
const carT4 = [[4.9,53.8],[37.2,39.5],[34.3,42.4],[29.2,43.2],[29.2,48.3],[32.2,45.4],[35,49],[37.2,51.2],[41.6,43.2],[24.9,37.3],[27.8,34.3],[29.2,39.5],[34.7,56.4],[48.8,43.2],[60.8,50.8],[43.8,60.8],[68,56.4],[70.9,56.4],[59,58.6],[61.9,61.6],[64.8,62.3],[67.7,61.6],[70,60.5],[68.5,63],[61.2,67.5],[77,62.6],[79.9,67],[77.6,70.3],[56.4,61.6],[50.6,61.6],[53.5,63],[40,46],[43,46],[46,44.5],[49,46],[39.5,49],[42,49],[45,48],[48,48],[51,47],[39,52],[42,52],[45,51],[48,51],[51,50],[54,50],[41,55],[44,54],[47,54],[50,53],[53,53],[56,53],[44,57],[47,57],[50,56],[53,56],[56,56],[59,55],[50,59],[53,59],[56,59],[41,47.5],[44,47.5],[47,46.5],[50,45.5],[40.5,50.5],[43.5,50],[46.5,49.5],[49.5,49],[52,48.5],[42,53.5],[45,53],[48,52.5],[51,52],[54,51.5],[57,51],[45,55.5],[48,55.5],[51,54.5],[54,54.5],[57,54.5],[47,59],[52,57.5],[55,57.5],[58,57],[36,45],[33,48],[38,46]];

const penD0 = [[2.2,2.8],[4.4,1.3],[6.4,8.6],[12.8,15.6],[17.9,19.3],[29,27.7],[25.5,33.9],[22.2,29.2],[28.4,37.6],[31.3,40.6],[15.5,41.4],[22.2,42.9],[31.3,43.9],[21,45.8],[26,45.8],[29,61.9],[35.7,61.9],[39.8,65.9],[43.7,67.1],[43.3,70.7],[48.3,76.6],[50.2,76.5],[50.2,82],[41,51],[17.9,26.5]];
const penD1 = [[43.3,38.2],[54.3,42],[51.5,44.6],[52.8,46.6],[37.4,45.5],[47.9,51.3],[45.4,52.5],[31.6,61],[37,66],[40.3,61.9],[34.5,60],[38,60],[39,63]];
const penD2 = [[99.1,1.9],[92.5,15.6],[95.8,22.5],[97,24.6],[94.8,26.5],[91.1,29.9],[89.3,31.5],[8.4,5.4],[11.8,6.4],[12.2,10.1],[9.6,11.9],[11.8,13.8],[15.4,12.6],[20,7.4],[23,7.4],[24.1,8.8],[21,11.6],[19.2,15.6],[13.9,16],[14.6,19],[28.4,20.8],[64,26.3],[16.4,22.3],[15.7,24.7],[18.6,24.3],[22.2,25.4],[24.7,28.7],[17.1,30.2],[20.7,30.2],[17.9,33.2],[20.3,35],[27.6,33.6],[22.9,37.6],[25.1,39.1],[26.6,42.9],[19,27],[17,25],[19.5,29],[17,28],[19,32],[22,33],[24,36],[67.9,35.3],[70.1,36.2],[79.5,34.5],[76.6,37],[74,38.5],[67.1,39.6],[68.9,40.6],[83.9,36.2],[82.5,37.5],[81,38.7],[79.5,39.5],[78.1,40.3],[77,41.5],[75.9,42.6],[74.5,43.6],[73,44.6],[78.8,44.8],[71.5,46],[70.1,47],[69,48],[67.9,48.8],[66.5,49.2],[65,49.6],[63.5,50],[62.1,50.7],[60.5,51.2],[59.2,51.8],[58,52.2],[57,52.5],[55.5,52.9],[54.1,53.3],[52,56.3],[49.1,57.7],[45,57],[32.4,59.2],[33,57],[27.3,62.2],[25.1,64.4],[43,67.9],[37.4,62.5],[30,60]];
const penD3 = [[32.9,33.8],[5.4,96.3],[10.6,96.1],[9.1,89.4],[11.3,89.4],[16,81.1],[15,67.4],[18,63],[17.9,65.2],[16.7,70.5],[18.1,67.7],[16,68.5],[20.7,65.9],[24.8,65.2],[22.9,61.9],[26,60.1],[28.9,61.3],[14.1,53.3],[17.1,48],[18.6,52.5],[21.5,51],[25.8,51.8],[23.7,54.8],[28,54.8],[29.4,48.8],[25.8,48],[29.4,41.4],[34.1,43.6],[22.9,45.8],[37.4,48.8],[40.3,48.8],[36.7,51],[43,47.5],[45.7,46.4],[44.7,49.3],[49.8,48.8],[51.2,49.6],[56,43.9],[56.7,46.7],[61,46.1],[62.8,47],[62,50.5],[66.5,46.2],[71.5,46.6],[74.5,47.6],[68.5,40.8],[82.4,38.8],[86.2,38.1],[90.4,41.2],[47.6,50.3],[19,50],[22,49],[24,50],[27,50],[28,52],[31,53],[21,53],[26,46],[30,45],[31,50],[26,55],[20,56],[23,58],[35,48],[20,52],[23,51],[25,53],[27,52.5],[29,51],[30,47],[28,46],[27,44],[33,46],[35,50],[38,47],[40,50.5],[16,51],[18,53],[21,50],[24,47],[29,57],[25,58]];
const penD4 = [[29.5,52.5],[32.4,50.3],[33.1,54],[36,53.3],[36,56.3],[38.9,54.8],[40.3,57.7],[39.6,60],[43.3,54.8],[45.4,56.3],[48.3,54.8],[49.8,57],[52,53.3],[49.3,61],[55.6,55.5],[58.5,56.3],[60.7,55.5],[63.6,54.8],[66.2,56.3],[61.4,59.5],[71.3,57.1],[74.5,57.9],[76.2,61.3],[87.8,61.3],[34.5,54],[37,52],[41,55],[35,51],[31,54],[38,57],[33,52],[36,55],[39,56],[34,56],[37,58],[38,54],[46.5,55],[44,56],[47,57]];

const penT0 = [[33.2,6],[30.3,11],[35.6,10.9],[32.5,19.5],[31.3,22.5],[33.1,24.3],[33.1,31.4],[40.3,32.1],[43.1,34],[34.8,36.9],[39.3,38],[33.1,40.6],[35.8,70.7],[39.9,72.2],[39,62],[39.6,48.8],[35,39],[34,33],[36,37],[34,38.5]];
const penT1 = [[39,29.2],[47.2,33.8],[41.9,42.9],[25.4,88.5],[29,91.7],[27,92.6],[27.7,77.7],[39.3,78.9],[30.9,66.7],[33.8,66.7],[36.7,68.2],[32.4,69.6],[35,69],[29.5,70.4],[33.8,72.3],[31,68],[34,65],[36,66]];
const penT2 = [[54.4,42.1],[55.3,43.6],[25.1,49.6],[27,47],[48.3,51.8],[51.2,54],[55.6,51],[59.2,54],[61.4,53.3],[64.5,48],[65,51.8],[67.9,50.3],[65.7,54.8],[70.3,47.6],[74.1,51.8],[75.8,50.7],[78.8,53.3],[78,55.5],[82.4,54.9],[86,49.6],[88.2,49.6],[90.1,52],[85.3,54.8],[86.8,55.5],[94.8,54.3],[93.3,56],[98,50.9],[99.9,54],[70.1,56.3],[67.2,59.7],[60.7,54.8],[54.4,58],[49.1,57.3],[46.2,60.7],[43.3,60.7],[46.9,64.7],[52,60.7],[51.2,65.2],[58.9,63.4],[56.7,65.9],[65,63.7],[71.6,62.9],[76.2,63.2],[79.7,66.8],[69.4,68.2],[66.5,70.4],[63.6,69.2],[62.1,71.9],[57,67.4],[54.1,70.4],[49.1,69.6],[51,69.5],[57,74.1],[55.6,74.9],[67.3,74.7],[71.8,76.2],[79.4,72.6],[81,75.6],[87.1,72.8],[88.2,77.5],[92.2,80.1],[76.6,79.9],[44,55],[47,53],[46,56],[44,58],[50,52]];
const penT3 = [[9.3,8.9],[10.2,12.6],[12.3,15],[17.3,14.6],[21.8,8.5],[45.1,9.8],[58.9,8.6],[76.8,0.7],[5.5,23.5],[5.8,27.7],[13.5,22.2],[27.4,21.7],[37.9,22.8],[45.4,18.5],[49.1,16.8],[49.2,20.5],[51.2,19.2],[57,16.4],[65.5,17.7],[64.7,24.3],[69.2,25.9],[74.3,30.2],[47,27.4],[51.8,26.5],[50.1,32.9],[37.2,28],[35.4,30.2],[37.4,30.7],[20.5,28.7],[19.6,31.3],[22.9,30.2],[24.7,32.1],[28,34.4],[23.4,35],[19.9,37.6],[24.2,37.8],[25.1,41.7],[30.6,38.7],[36,34.2],[42.1,37.2],[36.7,39.9],[45.1,40.3],[48.9,40.6],[28,44.3],[30.9,42.6],[34.5,44.3],[37.4,43.6],[30.9,47.3],[44,43.6],[46.9,44.3],[49.8,45.1],[43.3,47.3],[47.6,48],[48.3,50.6],[52,50.3],[53.8,52.5],[43.3,57],[46.2,54],[46.2,60.7],[54.1,62.9],[41.4,65.6],[39,42],[34,41],[41,45],[36,47],[38,41],[33,44],[40,44],[46,46],[50,47],[44,50],[38,45]];
const penT4 = [[25.8,39.1],[33.5,43.2],[26.6,46.1],[22.2,48],[22.2,53.3],[25.8,54.8],[16.7,64],[18.7,63.4],[20,67],[20,70.8],[25.8,67.9],[24.4,72],[28,66.7],[13.9,74.3],[22.6,80.4],[30.9,78.1],[12.5,83.8],[6.2,86.3],[4.4,90],[0.4,92.7],[31.3,71],[33.1,73.8],[38.2,65.9],[33,48.5],[35,49],[30,52],[33,52],[36,51.5],[39,52],[41,51.5],[29,55],[32,55],[35,54.5],[38,55],[40,55],[28,58],[31,58],[34,57.5],[37,58],[39.5,57.5],[27.5,61],[30,61],[33,61],[36,60.5],[38,61],[30,63.5],[33,63.5],[36,63],[31.5,50],[34.5,50.5],[37.5,50],[31,53.5],[34,53],[37,53],[39,53.5],[30,56.5],[33,56],[36,56.5],[38.5,56],[29,59.5],[32,59.5],[35,59],[38,59.5],[31,62],[34,62],[37,62]];

const chhD0 = [[4.6,50.6],[9.1,50.6],[27.9,50.9],[32.3,50.4],[37,50.5],[43,50.4],[62.6,50.6],[71.8,49.4],[75.3,51.2],[90.6,51.2],[93,51.2],[94.2,48.2],[95.5,49.7]];
const chhD1 = [[49.2,4.5],[49.2,7],[49.2,8],[49.2,9.5],[49.2,10.5],[49,12],[49,13.5],[49,15],[49,16],[49,17],[49,18],[49,19],[49,20.5],[49,22],[52.2,21.7],[52.5,71],[51.5,59.8],[50.4,61.3],[48.2,25.3],[49.5,34],[48.5,68],[49,86]];
const chhD2 = [[8.8,52.5],[15.3,51.6],[18.5,52.4],[22.1,52.2],[24.3,52.2],[25.8,52],[28,51.8],[29,52],[30,52],[31,52],[32,51.5],[33,52],[34,51.8],[35,52],[36,51.5],[37,51.5],[38,51.5],[39,51.5],[40,51.5],[41,51.5],[42,51.3],[43,51.5],[44,51],[45,51.5],[46,51.5],[47,51.5],[48,51.3],[49,51.5],[50,51.5],[51,51.5],[52,51.5],[53,51.5],[54,51.5],[55,51.5],[56,51.5],[57,51.5],[58,51.5],[59,51.5],[60,51.5],[61,51.5],[62,51.5],[63,51.5],[64,51.5],[65,51.5],[66,51.5],[67,51.5],[68,51.5],[69,51.5],[70,51.5],[71,51.5],[72,51.3],[73,51.5],[74,51.5],[77.9,51.3],[79,51.3],[80,51.3]];
const chhD3 = [[50.4,50.8]];
const chhD4 = [[48.9,22],[48.8,23.5],[48.8,25],[48.8,26.5],[48.7,28],[48.7,29.5],[48.7,31],[48.6,32.5],[48.6,34],[48.6,35.5],[48.6,37],[48.6,38.5],[48.6,40],[48.6,41.5],[48.6,43],[48.6,44.5],[48.6,46],[48.6,47.5],[48.6,49],[48.6,50.5],[48.6,52],[48.6,53.5],[48.6,55],[48.6,56.5],[48.6,58],[48.6,59.5],[48.6,61],[48.6,62.5],[48.6,64],[48.6,65.5],[48.6,67],[48.7,68.5],[48.7,70],[48.7,71],[48.7,72],[48.6,76.2],[48.6,77],[48.6,78],[48.6,79],[48.6,80],[48.6,81.5],[48.6,83.2],[48.6,87],[48.5,91],[48.5,92.5],[48.5,95.2]];

const chhT0 = [[32.5,19.6],[33.4,24.1],[34.5,24.6],[34.8,35.3],[34.8,39.7],[39.2,42.7],[39.7,51.6],[37,70.2],[41.1,68],[39.2,79.2],[40,78.5],[36,38],[40,48]];
const chhT1 = [[4.7,60.7],[15,57.5],[27.6,55.2],[19.5,56.8],[24,58],[34,58],[43,57],[50,57],[74.9,57.6],[77.8,56.8],[57.4,59],[61.8,59],[70,57]];
const chhT2 = [[34.7,4.6],[35.4,17.9],[35.9,22.6],[36.3,26.3],[36.3,28],[36.3,29],[36.2,31],[36,33],[36,35],[36.5,37],[37,39],[36,40],[37.5,41],[36.5,43],[38,44],[37,46],[38,47],[37,49],[38,50],[37.5,52],[38,54],[36.2,36],[36.5,41.5],[37,44.5],[37.5,48],[37,51],[37.5,53],[38.5,62],[38,64],[39,65],[38,67],[39,69],[38.5,71],[39.5,72],[39,74],[38.5,63],[38.5,66],[38.5,68],[39,70.5],[39,73],[39.9,75.4],[38,76.6],[38.2,82.6],[39.5,83.6],[40.1,95.2]];
const chhT3 = [[38.5,55.7],[32.7,60.6],[34.8,60.6],[37.8,59.8],[36,60.5]];
const chhT4 = [[5.7,59.5],[6.5,59.2],[7.5,59],[9,59.5],[10,59.5],[11,59],[12,59],[13,59.3],[14,59.5],[15,59],[16,58.5],[17,58.5],[18,58.5],[19,58.5],[20,58.5],[21,58.2],[22,58],[23,58.2],[24,58.5],[25,58.2],[26,58],[27,58],[28,58],[29,58],[30,58],[31,58],[32,58],[33,57.7],[34,57.5],[35,57.7],[36,58],[37,57.7],[38,57.5],[39,57.5],[40,57.5],[41,57.2],[42,57],[43,57],[44,57],[45,57],[46,57],[47,57],[48,57],[49,56.7],[50,56.5],[51,56.5],[52,56.5],[53,56.2],[54,56],[55,56],[56,56],[57,56],[58,56],[59,56],[60,56],[61,55.7],[62,55.5],[63,55.5],[64,55.5],[65,55.5],[66,55.5],[66.9,55.7],[68,56],[70,56],[71,56],[72.7,55.8],[77.1,56.4],[80,56.1],[86.3,55.7],[96,55.2]];

const panels = [
  { title: 'DOMINO', box: [7.5, 241, 18.3, 242], series: [hopD0, hopD1, hopD2, hopD3, hopD4] },
  { title: 'T-CML', box: [286.3, 519.5, 18.3, 242], series: [hopT0, hopT1, hopT2, hopT3, hopT4] },
  { title: 'DOMINO', box: [548.3, 779.5, 18.3, 242], series: [antD0, antD1, antD2, antD3, antD4] },
  { title: 'T-CML', box: [824.5, 1056.5, 18.3, 242], series: [antT0, antT1, antT2, antT3, antT4] },
  { title: 'DOMINO', box: [6.8, 240.5, 337.8, 559.5], series: [humD0, humD1, humD2, humD3, humD4] },
  { title: 'T-CML', box: [287, 520.5, 337.8, 559.5], series: [humT0, humT1, humT2, humT3, humT4] },
  { title: 'DOMINO', box: [546, 779.5, 334.7, 559.5], series: [cheD0, cheD1, cheD2, cheD3, cheD4] },
  { title: 'T-CML', box: [825, 1058, 334.7, 559.5], series: [cheT0, cheT1, cheT2, cheT3, cheT4] },
  { title: 'DOMINO', box: [7.8, 240.5, 653.7, 878.3], series: [sntD0, sntD1, sntD2, sntD3, sntD4] },
  { title: 'T-CML', box: [286.3, 518.6, 653.7, 878.3], series: [sntT0, sntT1, sntT2, sntT3, sntT4] },
  { title: 'DOMINO', box: [544.5, 779, 652.8, 878.7], series: [carD0, carD1, carD2, carD3, carD4] },
  { title: 'T-CML', box: [824.5, 1058, 652.8, 878.7], series: [carT0, carT1, carT2, carT3, carT4] },
  { title: 'DOMINO', box: [7.4, 240.5, 970.7, 1194.7], series: [penD0, penD1, penD2, penD3, penD4] },
  { title: 'T-CML', box: [286.3, 519.3, 970.7, 1194.7], series: [penT0, penT1, penT2, penT3, penT4] },
  { title: 'DOMINO', box: [546, 779.5, 971, 1195], series: [chhD0, chhD1, chhD2, chhD3, chhD4] },
  { title: 'T-CML', box: [825, 1058, 971, 1195], series: [chhT0, chhT1, chhT2, chhT3, chhT4] }
];

// boxX0, boxX1, boxY0, first marker x, marker step, text offset from marker
const legends = [
  [7.4, 520, 250.7, 25.4, 105.3, 22.6],
  [546, 1059, 250.7, 563.1, 105.5, 23],
  [10.8, 518, 568, 28, 104.3, 22.2],
  [546, 1060, 568, 563.1, 105.6, 23],
  [7.4, 519, 886.7, 24.3, 105.6, 23],
  [544, 1059, 887.7, 561.4, 106, 23],
  [7.4, 520, 1203.3, 24.3, 105.6, 23],
  [546.6, 1059, 1203.3, 563.8, 105.2, 23.4]
];

// center x, baseline y, plain text, math parts
const captions = [
  [263.4, 308.3, '(a) Visualization in Hopper-', 'm', 'd'],
  [803, 308.3, '(b) Visualization in Cripple-Ant-', 'm', 'd'],
  [263.5, 626, '(c) Visualization in Slim-Humanoid-', 'm', 'd'],
  [803, 626, '(d) Visualization in Halfcheetah-', 'm', 'd'],
  [263.5, 945, '(e) Visualization in Ant-', 'm', 'd'],
  [802.5, 945, '(f) Visualization in Cartpole-', 'f', 'l'],
  [262.7, 1261, '(g) Visualization in Pendulum-', 'm', 'l'],
  [803, 1261, '(h) Visualization in Cripple-Halfcheetah-', 'm', 'd']
];

const svg = d3.select('#chart');

panels.forEach((p, i) => {
  const [x0, x1, y0, y1] = p.box;
  const x = d3.scaleLinear().domain([0, 100]).range([x0, x1]);
  const y = d3.scaleLinear().domain([0, 100]).range([y0, y1]);

  svg.append('clipPath').attr('id', `clip${i}`)
    .append('rect').attr('x', x0).attr('y', y0).attr('width', x1 - x0).attr('height', y1 - y0);

  const g = svg.append('g').attr('clip-path', `url(#clip${i})`);
  p.series.forEach((points, s) => {
    g.append('g').attr('fill', setupColors[s])
      .selectAll('circle').data(points).join('circle')
      .attr('cx', d => x(d[0]))
      .attr('cy', d => y(d[1]))
      .attr('r', 3.4);
  });

  svg.append('rect')
    .attr('x', x0).attr('y', y0).attr('width', x1 - x0).attr('height', y1 - y0)
    .attr('fill', 'none').attr('stroke', '#333').attr('stroke-width', 1.2);

  svg.append('text')
    .attr('x', (x0 + x1) / 2).attr('y', y0 - 5)
    .attr('text-anchor', 'middle')
    .text(p.title);
});

legends.forEach(([bx0, bx1, by, mx, step, off]) => {
  const h = 22.6;
  svg.append('rect').attr('x', bx0 + 1.5).attr('y', by + 1.5).attr('width', bx1 - bx0).attr('height', h).attr('rx', 2).attr('fill', '#b5b5b5');
  svg.append('rect').attr('x', bx0).attr('y', by).attr('width', bx1 - bx0).attr('height', h).attr('rx', 2).attr('fill', '#fff').attr('stroke', '#d5d5d5');
  setupNames.forEach((name, s) => {
    svg.append('circle').attr('cx', mx + s * step).attr('cy', by + 11.2).attr('r', 3.3).attr('fill', setupColors[s]);
    svg.append('text').attr('x', mx + s * step + off).attr('y', by + 14.8).text(name);
  });
});

captions.forEach(([cx, cy, plain, m1, m2]) => {
  const t = svg.append('text').attr('class', 'caption').attr('x', cx).attr('y', cy).attr('text-anchor', 'middle');
  t.append('tspan').text(plain);
  t.append('tspan').attr('font-style', 'italic').attr('letter-spacing', 1).text(m1);
  t.append('tspan').text('-');
  t.append('tspan').attr('font-style', 'italic').text(m2);
});
</script>
</body>
</html>
